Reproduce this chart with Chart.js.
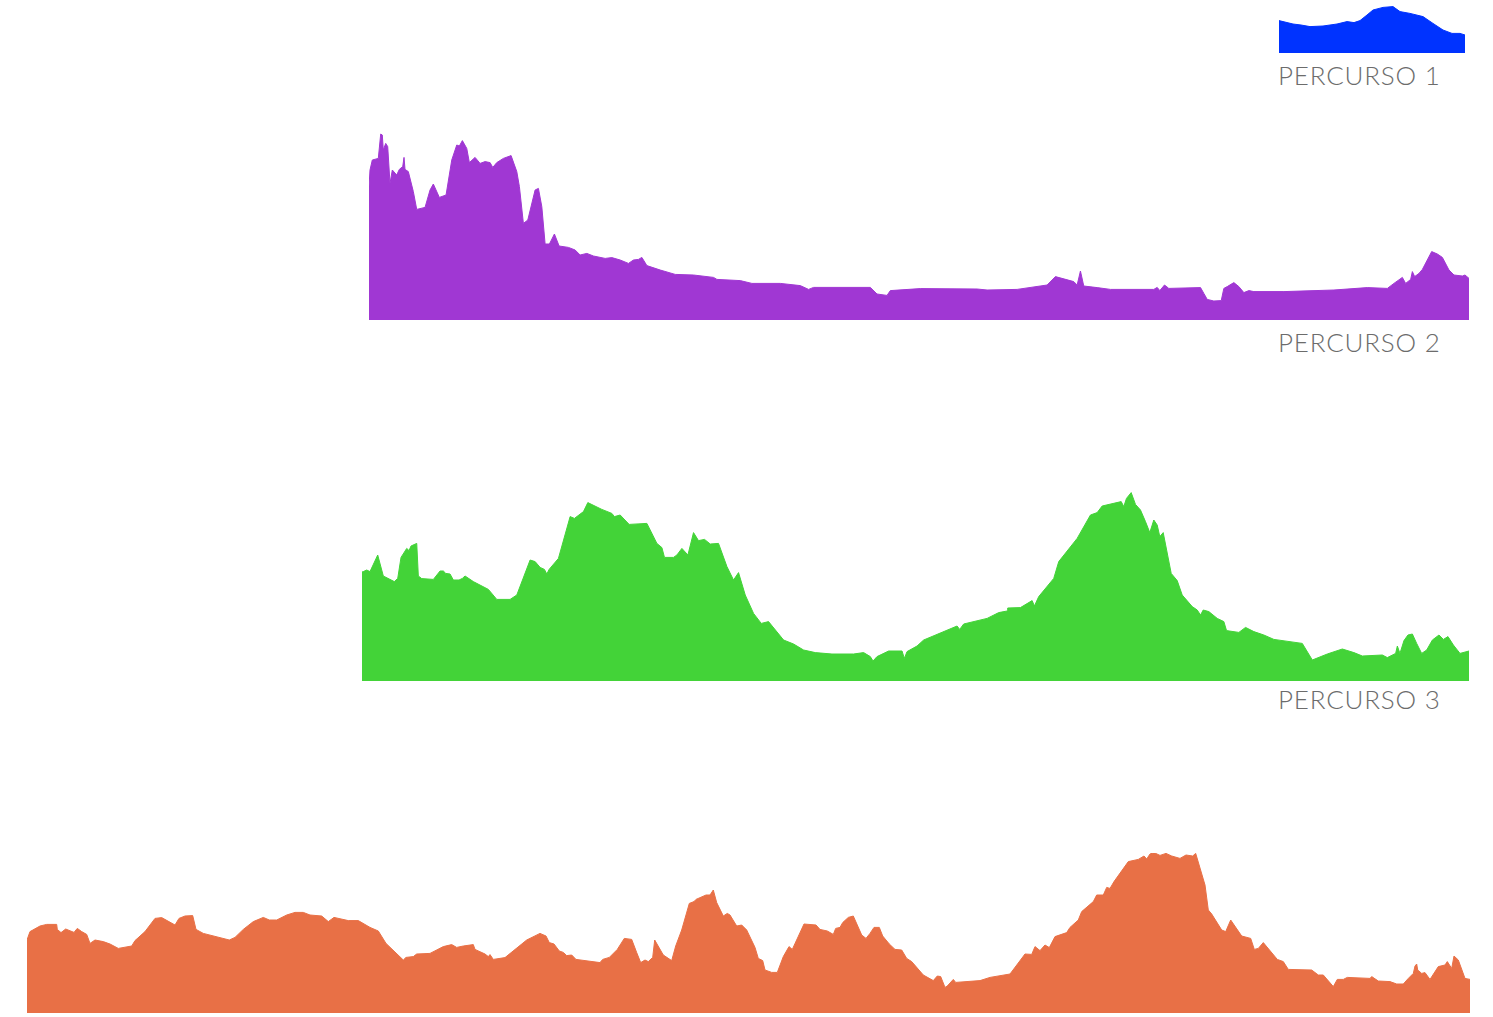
<!DOCTYPE html>
<html>
<head>
<meta charset="utf-8">
<script src="https://cdn.jsdelivr.net/npm/chart.js@4"></script>
<style>
  html, body { margin: 0; padding: 0; background: #fff; }
  body { width: 1493px; height: 1017px; position: relative; overflow: hidden; }
  .profile { position: absolute; }
  .label { position: absolute; left: 1278px; font-family: Lato, "Open Sans", sans-serif; font-weight: 300; font-size: 26px; line-height: 26px; letter-spacing: 0.8px; color: #6c6c6c; white-space: nowrap; }
</style>
</head>
<body>
<div class="profile" style="left:1279px;top:3px"><canvas id="p1" width="186" height="50"></canvas></div>
<div class="label" style="top:62px">PERCURSO 1</div>
<div class="profile" style="left:369px;top:130px"><canvas id="p2" width="1100" height="190"></canvas></div>
<div class="label" style="top:329px">PERCURSO 2</div>
<div class="profile" style="left:362px;top:491px"><canvas id="p3" width="1107" height="190"></canvas></div>
<div class="label" style="top:686px">PERCURSO 3</div>
<div class="profile" style="left:27px;top:853px"><canvas id="p4" width="1443" height="160"></canvas></div>
<script>
// distance (km) / elevation (m)
const p1Dist = [0, 1.4, 2.2, 3.1, 4.4, 5.8, 6.8, 7.5, 8.1, 8.8, 9.4, 10.4, 11.4, 12.1, 13.1, 14.4, 15.4, 16.4, 17.3, 18.1, 18.6];
const p1Elev = [162, 145, 140, 132, 135, 145, 157, 152, 162, 190, 215, 228, 232, 207, 198, 182, 148, 115, 98, 98, 90];

const p2Dist = [0, 0.1, 0.33, 0.93, 1.17, 1.33, 1.43, 1.67, 1.87, 2.1, 2.33, 2.77, 3.03, 3.37, 3.5, 3.6, 3.93, 4.43, 4.77, 5.6,
  6.1, 6.43, 7.03, 7.7, 8.27, 8.77, 9.03, 9.33, 9.77, 10.03, 10.6, 11.1, 11.6, 12.1, 12.37, 12.77, 13.43, 14.2, 14.77, 15.03,
  15.43, 15.87, 16.6, 16.93, 17.27, 17.6, 18.03, 18.53, 19.0, 19.93, 20.6, 21.1, 21.77, 22.43, 23.6, 24.27, 25.1, 25.93, 26.43, 26.93,
  27.27, 27.77, 29.1, 30.6, 32.43, 34.43, 34.77, 37.1, 38.27, 41.1, 43.1, 43.93, 44.43, 50.1, 50.77, 51.77, 52.1, 55.1, 60.77, 61.77,
  64.77, 67.77, 68.6, 70.43, 70.77, 71.1, 71.43, 72.77, 74.1, 78.43, 78.77, 79.03, 79.5, 79.93, 83.1, 83.43, 83.77, 84.43, 85.17, 85.43,
  85.77, 86.43, 86.93, 87.43, 87.93, 88.43, 91.43, 96.43, 99.77, 101.77, 102.43, 103.27, 103.6, 104.1, 104.27, 104.5, 104.93, 105.27, 106.2, 106.77,
  107.27, 107.93, 108.43, 109.27, 109.53, 109.93];
const p2Elev = [667, 750, 800, 808, 930, 925, 850, 883, 867, 683, 750, 725, 753, 767, 813, 753, 742, 642, 553, 563,
  650, 680, 613, 625, 800, 875, 870, 897, 858, 787, 813, 783, 792, 787, 763, 787, 808, 822, 742, 667,
  483, 500, 650, 658, 567, 380, 380, 430, 370, 363, 350, 325, 333, 320, 308, 312, 300, 283, 300, 303,
  313, 272, 250, 228, 225, 213, 203, 197, 183, 183, 172, 153, 163, 163, 130, 123, 147, 157, 155, 150,
  153, 175, 217, 192, 175, 245, 170, 162, 153, 153, 163, 147, 175, 158, 162, 133, 103, 95, 97, 158,
  167, 187, 167, 137, 147, 142, 142, 150, 162, 158, 183, 213, 183, 203, 242, 217, 233, 253, 342, 330,
  313, 250, 225, 220, 225, 208];

const p3Dist = [0, 0.13, 0.47, 0.8, 1.57, 2.13, 3.23, 3.57, 3.9, 4.47, 4.7, 4.9, 5.47, 5.63, 5.97, 7.13, 7.8, 8.13, 8.37, 8.8,
  9.13, 9.7, 10.03, 10.3, 11.13, 12.63, 13.47, 14.8, 15.47, 16.8, 17.3, 17.8, 18.23, 18.47, 18.7, 19.63, 20.8, 21.23, 22.13, 22.57,
  23.97, 24.97, 25.23, 25.8, 26.7, 28.47, 29.47, 29.97, 30.23, 31.13, 31.47, 31.97, 32.57, 33.13, 33.63, 34.23, 34.8, 35.63, 36.47, 37.13,
  37.63, 38.3, 39.13, 39.9, 40.63, 42.13, 43.13, 44.13, 45.3, 46.97, 49.13, 50.13, 50.8, 51.07, 51.47, 52.63, 53.97, 54.2, 54.47, 55.47,
  56.13, 59.47, 59.73, 60.13, 62.47, 63.63, 64.47, 64.53, 65.8, 66.97, 67.2, 67.63, 69.13, 69.63, 71.47, 72.8, 73.47, 73.97, 75.87, 76.13,
  76.4, 76.87, 77.3, 77.8, 78.3, 78.73, 79.13, 79.47, 79.73, 80.07, 80.87, 81.47, 81.97, 82.97, 83.47, 83.8, 84.07, 84.63, 85.47, 86.13,
  86.4, 87.63, 88.3, 89.13, 90.13, 91.13, 93.97, 94.97, 96.47, 97.97, 99.13, 99.97, 101.97, 102.47, 103.3, 103.47, 103.73, 104.13, 104.53, 104.97,
  105.4, 105.9, 106.4, 106.97, 107.63, 108.07, 108.53, 109.07, 109.73, 110.63];
const p3Elev = [545, 547, 555, 547, 630, 525, 497, 513, 618, 663, 652, 675, 688, 525, 512, 508, 550, 550, 538, 535,
  505, 505, 513, 525, 497, 458, 408, 408, 430, 605, 597, 568, 558, 535, 558, 613, 822, 813, 847, 892,
  858, 838, 822, 830, 783, 788, 688, 667, 618, 618, 630, 663, 630, 742, 702, 708, 685, 688, 572, 505,
  542, 430, 338, 288, 297, 205, 185, 155, 142, 135, 135, 142, 122, 100, 122, 150, 150, 113, 147, 175,
  205, 275, 258, 285, 313, 342, 350, 365, 367, 402, 375, 422, 513, 597, 713, 830, 842, 875, 897, 872,
  913, 942, 883, 855, 797, 742, 805, 780, 722, 742, 538, 502, 430, 372, 355, 330, 355, 347, 313, 297,
  252, 243, 268, 247, 230, 208, 188, 105, 135, 160, 142, 125, 130, 117, 138, 175, 138, 202, 230, 235,
  188, 138, 155, 205, 230, 208, 222, 180, 138, 150];

const p4Dist = [0, 0.3, 1.3, 1.97, 2.97, 3.03, 3.4, 3.87, 4.7, 5.03, 5.47, 5.97, 6.3, 6.8, 7.63, 8.3, 9.13, 10.47, 10.8, 11.8,
  12.8, 13.47, 14.8, 15.2, 15.8, 16.57, 16.9, 17.63, 20.23, 20.8, 21.63, 22.63, 23.63, 24.23, 24.97, 25.97, 26.8, 27.63, 28.3, 29.47,
  30.13, 30.7, 32.13, 33.13, 34.3, 35.13, 35.9, 37.63, 37.9, 38.63, 38.97, 40.3, 41.63, 42.47, 42.97, 43.63, 44.63, 44.8, 45.8, 46.13,
  46.3, 46.63, 47.8, 49.97, 51.3, 51.9, 52.23, 52.7, 53.23, 53.63, 53.97, 54.47, 54.9, 57.3, 57.57, 58.23, 59.03, 59.73, 60.47, 60.97,
  61.37, 61.8, 62.13, 62.57, 62.77, 63.63, 64.47, 64.87, 65.47, 66.23, 66.7, 66.9, 67.9, 68.3, 68.63, 68.97, 69.63, 70.03, 70.3, 70.97,
  71.47, 71.97, 72.8, 73.13, 73.57, 73.8, 74.47, 75.03, 75.63, 76.2, 76.53, 77.7, 78.9, 79.3, 80.03, 80.63, 80.87, 81.3, 81.57, 82.13,
  82.63, 83.47, 83.9, 84.3, 84.7, 85.23, 85.57, 86.23, 86.8, 87.47, 87.97, 88.47, 89.63, 90.63, 91.03, 91.37, 91.8, 92.03, 92.63, 92.87,
  95.3, 96.3, 98.3, 99.8, 100.47, 100.8, 101.3, 101.8, 102.23, 102.8, 103.97, 104.3, 105.13, 105.47, 106.63, 106.97, 107.63, 107.97, 108.3, 108.7,
  110.13, 111.13, 111.7, 111.97, 112.3, 112.7, 113.3, 113.9, 114.47, 115.3, 115.9, 116.57, 116.87, 117.8, 118.13, 118.47, 119.47, 119.87, 120.37, 121.47,
  122.37, 122.73, 123.13, 123.63, 125.03, 125.63, 126.13, 128.47, 129.13, 129.63, 130.63, 131.03, 131.63, 132.03, 134.3, 134.47, 135.13, 136.3, 136.97, 137.63,
  138.13, 138.63, 138.8, 138.97, 139.07, 139.47, 139.8, 140.3, 141.13, 141.8, 142.03, 142.47, 142.7, 143.13, 143.8, 144.3];
const p4Elev = [365, 407, 435, 443, 443, 418, 402, 420, 403, 423, 407, 393, 348, 365, 357, 345, 323, 335, 362, 407,
  473, 477, 440, 473, 485, 487, 418, 398, 365, 378, 418, 457, 478, 465, 465, 490, 503, 503, 490, 485,
  457, 478, 462, 462, 428, 410, 348, 265, 278, 282, 295, 298, 332, 342, 328, 335, 342, 318, 295, 282,
  292, 268, 277, 365, 398, 385, 352, 345, 310, 303, 287, 290, 268, 252, 268, 278, 318, 373, 368, 302,
  252, 265, 257, 278, 365, 290, 262, 335, 415, 548, 557, 568, 590, 590, 615, 552, 485, 498, 490, 435,
  440, 415, 328, 273, 262, 215, 203, 203, 282, 332, 318, 445, 440, 418, 410, 393, 423, 428, 452, 478,
  485, 390, 373, 398, 428, 428, 385, 345, 318, 315, 273, 257, 190, 162, 185, 182, 128, 135, 168, 153,
  162, 178, 195, 295, 293, 332, 312, 340, 327, 382, 402, 428, 465, 507, 557, 590, 590, 628, 623, 657,
  757, 768, 785, 770, 795, 802, 788, 798, 785, 773, 790, 785, 798, 640, 515, 495, 415, 407, 465, 385,
  373, 318, 323, 352, 268, 257, 218, 215, 190, 190, 132, 168, 168, 178, 173, 182, 160, 157, 145, 145,
  173, 198, 235, 245, 215, 198, 202, 168, 232, 240, 257, 223, 285, 265, 173, 168];

const routes = [
  { id: 'p1', dist: p1Dist, elev: p1Elev, color: '#0033ff', maxElev: 250 },
  { id: 'p2', dist: p2Dist, elev: p2Elev, color: '#a037d3', maxElev: 950 },
  { id: 'p3', dist: p3Dist, elev: p3Elev, color: '#43d338', maxElev: 950 },
  { id: 'p4', dist: p4Dist, elev: p4Elev, color: '#e87046', maxElev: 800 },
];

routes.forEach(r => {
  new Chart(document.getElementById(r.id), {
    type: 'line',
    data: {
      datasets: [{
        data: r.dist.map((d, i) => ({ x: d, y: r.elev[i] })),
        fill: 'start',
        backgroundColor: r.color,
        borderColor: r.color,
        borderWidth: 1,
        pointRadius: 0,
        tension: 0
      }]
    },
    options: {
      responsive: false,
      animation: false,
      layout: { padding: 0 },
      plugins: { legend: { display: false }, tooltip: { enabled: false } },
      scales: {
        x: { type: 'linear', display: false, min: 0, max: r.dist[r.dist.length - 1] },
        y: { display: false, min: 0, max: r.maxElev }
      }
    }
  });
});
</script>
</body>
</html>
